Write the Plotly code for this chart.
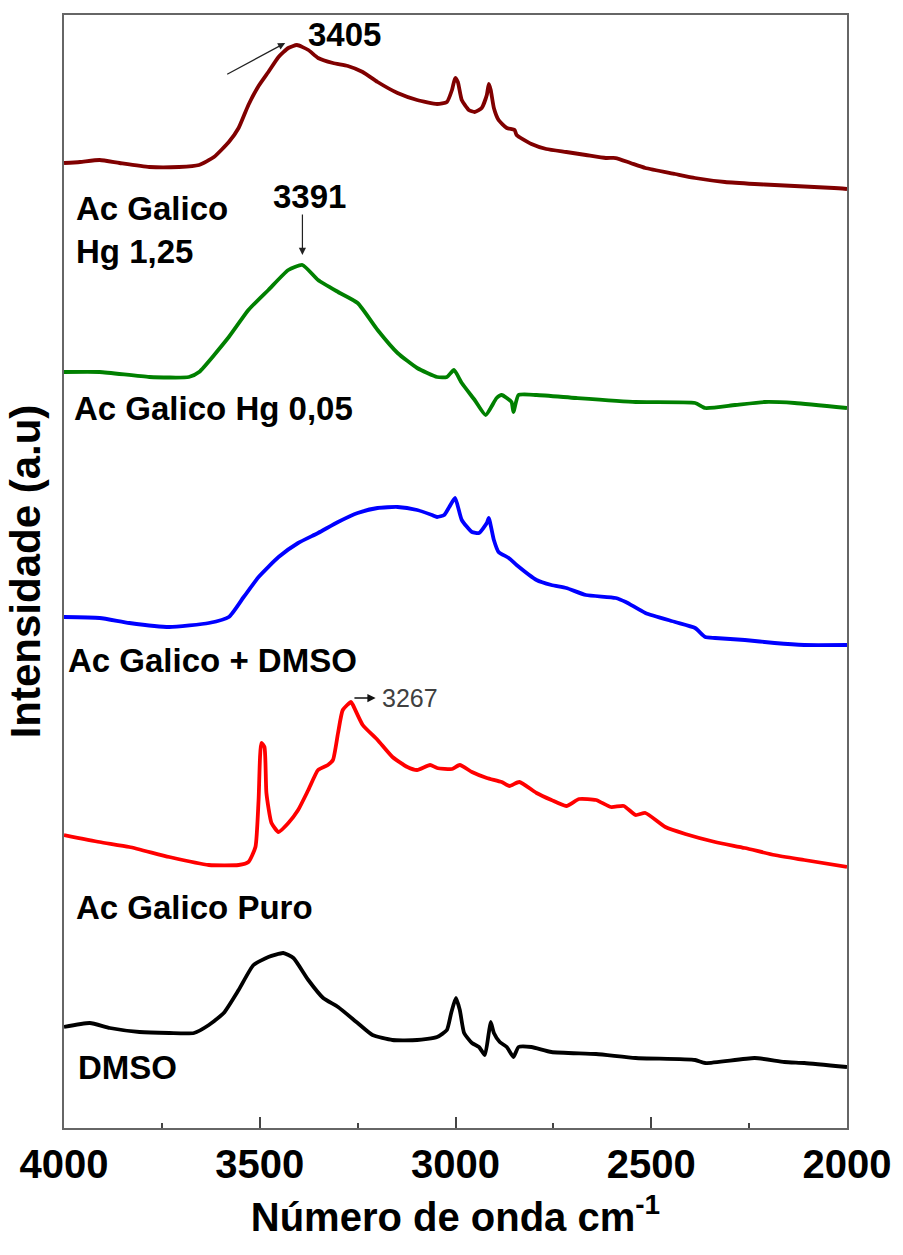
import plotly.graph_objects as go

# FTIR spectra (stacked), wavenumber in cm-1 and intensity in a.u.
wn_hg125 = [4000, 3959, 3909, 3858, 3782, 3706, 3655, 3617, 3579, 3554, 3529, 3503, 3478, 3452, 3427,
            3405, 3376, 3351, 3313, 3275, 3237, 3199, 3148, 3098, 3047, 3022, 3009, 3001, 2994, 2984,
            2966, 2951, 2933, 2920, 2915, 2910, 2902, 2890, 2869, 2849, 2844, 2806, 2768, 2717, 2667,
            2616, 2591, 2553, 2515, 2439, 2388, 2312, 2236, 2185, 2134, 2084, 2033, 2000]
int_hg125 = [96.5, 96.6, 96.8, 96.5, 96.1, 96.1, 96.3, 97.1, 98.6, 100.0, 102.3, 104.2, 105.6, 107.1, 108.0,
             108.3, 107.8, 107.0, 106.5, 106.2, 105.6, 104.6, 103.5, 102.8, 102.4, 102.6, 103.8, 105.0, 104.6, 102.8,
             101.8, 101.6, 102.0, 103.3, 104.4, 103.8, 102.0, 100.8, 100.0, 99.8, 99.3, 98.4, 97.9, 97.6, 97.3,
             97.0, 97.0, 96.5, 96.0, 95.4, 95.0, 94.6, 94.4, 94.3, 94.2, 94.1, 94.0, 93.9]

wn_hg005 = [4000, 3909, 3782, 3681, 3655, 3579, 3529, 3478, 3427, 3391, 3351, 3300, 3250, 3199, 3148,
            3098, 3047, 3022, 3004, 2984, 2951, 2923, 2895, 2882, 2857, 2852, 2839, 2793, 2692, 2540,
            2388, 2362, 2286, 2210, 2134, 2000]
int_hg005 = [75.6, 75.6, 75.1, 75.1, 75.6, 79.1, 81.8, 83.8, 85.8, 86.3, 84.8, 83.6, 82.5, 79.8, 77.5,
             76.0, 75.1, 75.1, 75.8, 74.5, 72.8, 71.3, 73.0, 73.3, 72.6, 71.6, 73.3, 73.3, 73.0, 72.6,
             72.5, 72.0, 72.3, 72.6, 72.5, 72.0]

wn_dmso_mix = [4000, 3909, 3833, 3731, 3630, 3579, 3541, 3503, 3452, 3402, 3351, 3300, 3250, 3199, 3148,
               3098, 3060, 3047, 3029, 3016, 3001, 2984, 2958, 2940, 2920, 2915, 2902, 2890, 2864, 2844,
               2793, 2755, 2717, 2667, 2591, 2565, 2515, 2439, 2388, 2362, 2337, 2261, 2185, 2109, 2000]
int_dmso_mix = [51.1, 51.0, 50.5, 50.1, 50.5, 51.1, 53.1, 55.1, 57.1, 58.5, 59.5, 60.6, 61.5, 62.0, 62.1,
                61.8, 61.3, 61.1, 61.3, 62.1, 63.0, 60.8, 59.6, 59.5, 60.5, 61.0, 58.8, 57.6, 57.0, 56.3,
                54.8, 54.3, 54.0, 53.3, 53.0, 52.6, 51.5, 50.6, 50.0, 49.1, 49.0, 48.8, 48.5, 48.3, 48.3]

wn_puro = [4000, 3909, 3833, 3731, 3630, 3554, 3529, 3511, 3503, 3496, 3488, 3483, 3470, 3452, 3427,
           3402, 3376, 3351, 3326, 3313, 3300, 3288, 3267, 3262, 3237, 3199, 3161, 3123, 3098, 3065,
           3047, 3009, 2989, 2958, 2920, 2882, 2862, 2837, 2793, 2755, 2717, 2684, 2641, 2603, 2570,
           2540, 2515, 2464, 2413, 2337, 2261, 2185, 2109, 2000]
int_puro = [29.3, 28.6, 28.1, 27.1, 26.3, 26.3, 26.6, 28.1, 32.8, 38.5, 38.1, 33.5, 30.5, 29.6, 30.5,
            31.8, 33.8, 35.8, 36.3, 36.8, 39.5, 41.8, 42.6, 42.3, 40.3, 38.8, 37.1, 36.1, 35.8, 36.3,
            36.0, 35.9, 36.3, 35.6, 35.0, 34.6, 34.2, 34.6, 33.5, 32.8, 32.2, 32.9, 32.8, 32.1, 32.2,
            31.3, 31.5, 30.1, 29.4, 28.6, 28.0, 27.3, 26.8, 26.1]

wn_dmso = [4000, 3934, 3883, 3807, 3731, 3668, 3630, 3592, 3554, 3516, 3478, 3440, 3414, 3376, 3338,
           3300, 3250, 3212, 3161, 3098, 3047, 3022, 3011, 2999, 2989, 2978, 2958, 2940, 2925, 2915,
           2910, 2902, 2887, 2869, 2852, 2839, 2806, 2755, 2641, 2540, 2388, 2362, 2236, 2160, 2109, 2000]
int_dmso = [10.1, 10.5, 10.0, 9.6, 9.5, 9.5, 10.3, 11.5, 13.8, 16.3, 17.1, 17.5, 17.0, 14.8, 13.0,
            12.1, 10.5, 9.3, 8.8, 8.8, 9.1, 9.8, 11.5, 13.0, 11.8, 9.5, 8.5, 8.1, 7.3, 9.5,
            10.6, 9.5, 8.6, 8.1, 7.1, 8.1, 8.1, 7.6, 7.4, 7.0, 6.8, 6.5, 7.0, 6.6, 6.5, 6.1]

series = [
    ("Ac Galico Hg 1,25", wn_hg125, int_hg125, "#800000"),
    ("Ac Galico Hg 0,05", wn_hg005, int_hg005, "#008000"),
    ("Ac Galico + DMSO", wn_dmso_mix, int_dmso_mix, "#0000FF"),
    ("Ac Galico Puro", wn_puro, int_puro, "#FF0000"),
    ("DMSO", wn_dmso, int_dmso, "#000000"),
]

# labelled band positions
peak_hg125 = 3405
peak_hg005 = 3391
peak_puro = 3267

fig = go.Figure()
for name, x, y, color in series:
    fig.add_trace(go.Scatter(x=x, y=y, mode="lines", name=name,
                             line=dict(color=color, width=3.8, shape="spline", smoothing=0.5),
                             showlegend=False))

label_font = dict(family="Liberation Sans, Arial, sans-serif", size=33, color="black", weight="bold")

def curve_label(text, wn, inten):
    fig.add_annotation(x=wn, y=inten, xref="x", yref="y", text=text, showarrow=False,
                       xanchor="left", yanchor="middle", align="left", font=label_font)

curve_label("Ac Galico<br>Hg 1,25", 3975, 89.8)
curve_label("Ac Galico Hg 0,05", 3980, 72.0)
curve_label("Ac Galico + DMSO", 3995, 46.8)
curve_label("Ac Galico Puro", 3975, 22.1)
curve_label("DMSO", 3970, 6.1)

num_font = dict(family="Liberation Sans, Arial, sans-serif", size=33, color="black", weight="bold")

# 3405 band
fig.add_annotation(x=3283, y=109.4, text=str(peak_hg125), showarrow=False, font=num_font)
fig.add_annotation(x=3435, y=108.5, ax=3587, ay=105.3, xref="x", yref="y", axref="x", ayref="y",
                   text="", showarrow=True, arrowhead=2, arrowsize=1.2, arrowwidth=1.2, arrowcolor="#222")
# 3391 band
fig.add_annotation(x=3374, y=93.2, text=str(peak_hg005), showarrow=False, font=num_font)
fig.add_annotation(x=peak_hg005, y=87.3, ax=peak_hg005, ay=91.5, xref="x", yref="y", axref="x", ayref="y",
                   text="", showarrow=True, arrowhead=2, arrowsize=1.2, arrowwidth=1.2, arrowcolor="#222")
# 3267 band
fig.add_annotation(x=3115, y=43.0, text=str(peak_puro), showarrow=False,
                   font=dict(family="Liberation Sans, Arial, sans-serif", size=25, color="#404040"))
fig.add_annotation(x=3204, y=43.0, ax=3262, ay=43.0, xref="x", yref="y", axref="x", ayref="y",
                   text="", showarrow=True, arrowhead=2, arrowsize=1.1, arrowwidth=1.5, arrowcolor="#111")

tick_font = dict(family="Liberation Sans Narrow, Arial Narrow, Liberation Sans, sans-serif",
                 size=40, color="black", weight="bold")

fig.update_layout(
    width=903, height=1255,
    margin=dict(l=64, r=50, t=15, b=127),
    paper_bgcolor="white", plot_bgcolor="white",
    xaxis=dict(
        range=[4000, 2000], autorange=False,
        tickmode="linear", tick0=2000, dtick=500,
        ticks="inside", ticklen=11, tickwidth=2, tickcolor="#444",
        minor=dict(ticks="inside", ticklen=5, tickwidth=2, tickcolor="#444", dtick=250),
        showline=True, linecolor="#666", linewidth=2, mirror=True,
        showgrid=False, zeroline=False,
        tickfont=tick_font,
        title=dict(text="Número de onda cm<sup>-1</sup>", font=tick_font, standoff=18),
    ),
    yaxis=dict(
        range=[0, 111.3], autorange=False,
        showticklabels=False, ticks="",
        showline=True, linecolor="#666", linewidth=2, mirror=True,
        showgrid=False, zeroline=False,
        title=dict(text="Intensidade (a.u)", standoff=8,
                   font=dict(family="Liberation Sans, Arial, sans-serif", size=42, color="black", weight="bold")),
    ),
)

fig.write_html("out.html")
